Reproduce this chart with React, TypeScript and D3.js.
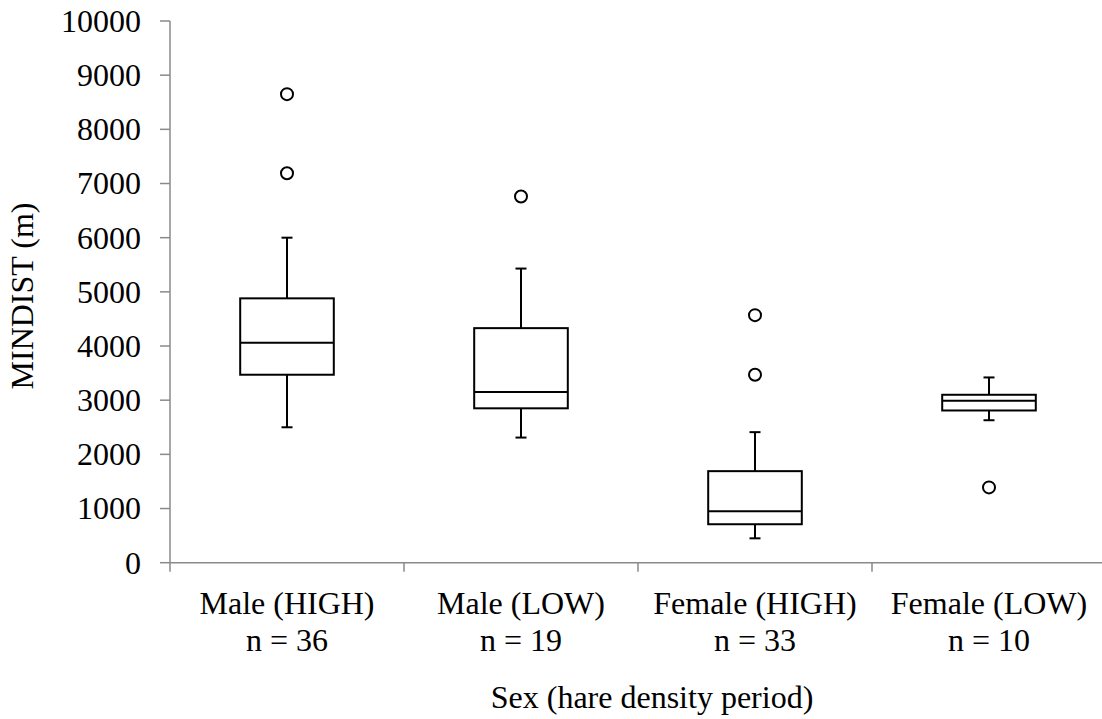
import React from "react";
import * as d3 from "d3";

const categories = ["Male (HIGH)", "Male (LOW)", "Female (HIGH)", "Female (LOW)"];
const nLabels = ["n = 36", "n = 19", "n = 33", "n = 10"];
const whiskerLow = [2500, 2310, 450, 2630];
const q1 = [3470, 2850, 710, 2810];
const median = [4060, 3150, 950, 2990];
const q3 = [4880, 4330, 1690, 3100];
const whiskerHigh = [6000, 5430, 2410, 3420];
const outliers = [[8650, 7190], [6760], [4570, 3470], [1390]];
const yTicks = [0, 1000, 2000, 3000, 4000, 5000, 6000, 7000, 8000, 9000, 10000];

const W = 1102;
const H = 719;
const FONT = "Liberation Serif, DejaVu Serif, serif";

export default function App() {
  const y = d3.scaleLinear().domain([0, 10000]).range([562.7, 21]);
  const x = d3.scaleBand<string>().domain(categories).range([170, 1106]).padding(0);
  const bw = x.bandwidth();
  const boxW = bw * 0.4;
  const capW = 11;
  const axisColor = "#8a8a8a";
  const txt = { fontFamily: FONT, fontSize: "32px" } as React.CSSProperties;

  return (
    <svg
      width={W}
      height={H}
      style={{ position: "absolute", left: 0, top: 0, background: "#fff", overflow: "hidden", fontFamily: FONT }}
    >
      {/* Y axis */}
      <line x1={170} x2={170} y1={y(10000)} y2={y(0)} stroke={axisColor} strokeWidth={1.5} />
      {yTicks.map((t) => (
        <g key={t}>
          <line x1={160} x2={170} y1={y(t)} y2={y(t)} stroke={axisColor} strokeWidth={1.5} />
          <text x={141} y={y(t)} dy="0.34em" textAnchor="end" style={txt} fill="#000">
            {t}
          </text>
        </g>
      ))}
      {/* X axis */}
      <line x1={170} x2={1106} y1={y(0)} y2={y(0)} stroke={axisColor} strokeWidth={1.5} />
      {categories.map((c) => (
        <line key={c} x1={x(c)!} x2={x(c)!} y1={y(0)} y2={y(0) + 9} stroke={axisColor} strokeWidth={1.5} />
      ))}
      <line x1={1106} x2={1106} y1={y(0)} y2={y(0) + 9} stroke={axisColor} strokeWidth={1.5} />

      {/* Boxes */}
      {categories.map((c, i) => {
        const cx = x(c)! + bw / 2;
        return (
          <g key={c} stroke="#000" strokeWidth={2} fill="none">
            <line x1={cx} x2={cx} y1={y(whiskerHigh[i])} y2={y(q3[i])} />
            <line x1={cx} x2={cx} y1={y(q1[i])} y2={y(whiskerLow[i])} />
            <line x1={cx - capW / 2} x2={cx + capW / 2} y1={y(whiskerHigh[i])} y2={y(whiskerHigh[i])} />
            <line x1={cx - capW / 2} x2={cx + capW / 2} y1={y(whiskerLow[i])} y2={y(whiskerLow[i])} />
            <rect x={cx - boxW / 2} y={y(q3[i])} width={boxW} height={y(q1[i]) - y(q3[i])} fill="#fff" />
            <line x1={cx - boxW / 2} x2={cx + boxW / 2} y1={y(median[i])} y2={y(median[i])} />
            {outliers[i].map((o, j) => (
              <circle key={j} cx={cx} cy={y(o)} r={6} fill="#fff" />
            ))}
          </g>
        );
      })}

      {/* Category labels */}
      {categories.map((c, i) => {
        const cx = x(c)! + bw / 2;
        return (
          <g key={c}>
            <text x={cx} y={614} textAnchor="middle" style={txt} fill="#000">
              {c}
            </text>
            <text x={cx} y={651} textAnchor="middle" style={txt} fill="#000">
              {nLabels[i]}
            </text>
          </g>
        );
      })}

      {/* Axis titles */}
      <text x={652} y={708} textAnchor="middle" style={txt} fill="#000">
        Sex (hare density period)
      </text>
      <text transform={`translate(33, 296) rotate(-90)`} textAnchor="middle" style={txt} fill="#000">
        MINDIST (m)
      </text>
    </svg>
  );
}
